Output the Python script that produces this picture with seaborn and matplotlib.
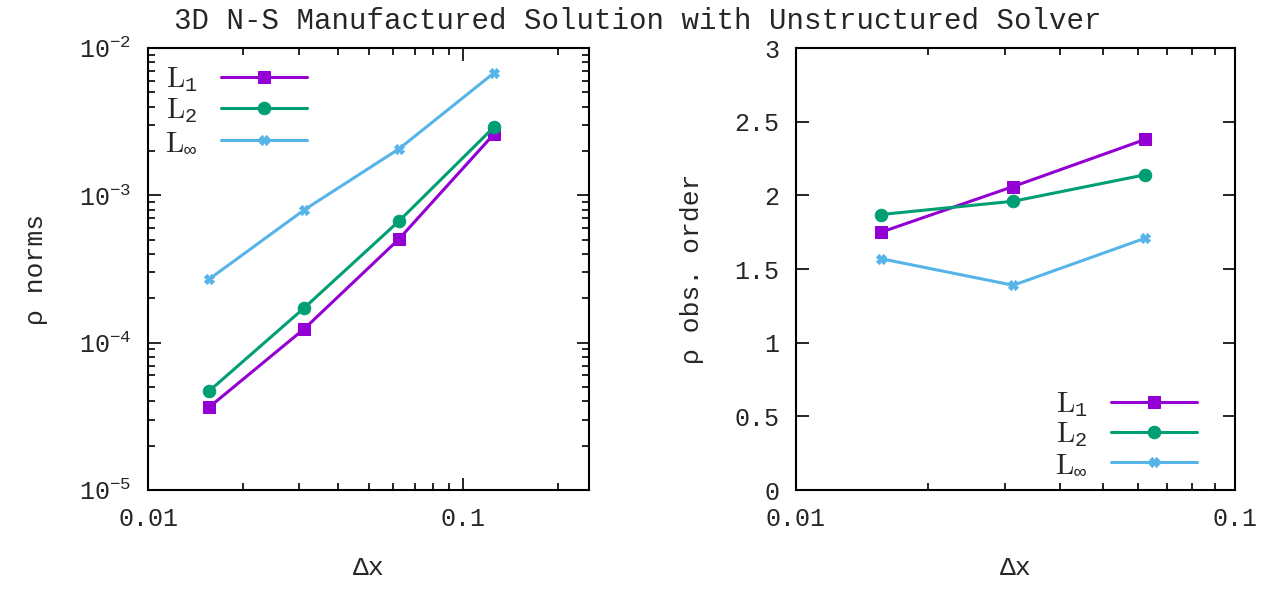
import numpy as np
import pandas as pd
import matplotlib
matplotlib.use('Agg')
import matplotlib.pyplot as plt
import seaborn as sns
from matplotlib.ticker import LogLocator, FixedLocator, NullFormatter, FuncFormatter
from matplotlib.font_manager import FontProperties

sns.set_theme(style='white')
plt.rcParams['font.family'] = ['Liberation Mono', 'DejaVu Sans']
plt.rcParams['mathtext.fontset'] = 'custom'
plt.rcParams['mathtext.rm'] = 'Liberation Mono'
plt.rcParams['mathtext.it'] = 'Liberation Mono'
plt.rcParams['mathtext.default'] = 'regular'

# 데이터
dx = [0.015625, 0.03125, 0.0625, 0.125]
l1_norm = [3.65e-5, 1.24e-4, 5.06e-4, 2.61e-3]
l2_norm = [4.70e-5, 1.72e-4, 6.70e-4, 2.91e-3]
linf_norm = [2.70e-4, 7.96e-4, 2.07e-3, 6.78e-3]

dx_order = [0.015625, 0.03125, 0.0625]
l1_order = [1.75, 2.06, 2.38]
l2_order = [1.87, 1.96, 2.14]
linf_order = [1.57, 1.39, 1.71]

labels = ['$\\mathrm{L}_1$', '$\\mathrm{L}_2$', '$\\mathrm{L}_\\infty$']
colors = ['#9400D3', '#009E73', '#56B4E9']
markers = ['s', 'o', 'X']
msizes = [9, 9, 7]

fig = plt.figure(figsize=(12.76, 5.89), dpi=100)
ax1 = fig.add_axes([0.116, 0.168, 0.3456, 0.7505])
ax2 = fig.add_axes([0.6238, 0.168, 0.3441, 0.7505])

for vals, lab, c, m, ms in zip([l1_norm, l2_norm, linf_norm], labels, colors, markers, msizes):
    sns.lineplot(x=dx, y=vals, ax=ax1, color=c, marker=m, markersize=ms,
                 markeredgecolor=c, linewidth=2.2, label=lab)
for vals, lab, c, m, ms in zip([l1_order, l2_order, linf_order], labels, colors, markers, msizes):
    sns.lineplot(x=dx_order, y=vals, ax=ax2, color=c, marker=m, markersize=ms,
                 markeredgecolor=c, linewidth=2.2, label=lab)

# 왼쪽 축
ax1.set_xscale('log')
ax1.set_yscale('log')
ax1.set_xlim(0.01, 0.25)
ax1.set_ylim(1e-5, 1e-2)
ax1.xaxis.set_major_locator(FixedLocator([0.01, 0.1]))
ax1.xaxis.set_major_formatter(FuncFormatter(lambda v, p: '%g' % v))
ax1.xaxis.set_minor_locator(LogLocator(base=10, subs=np.arange(2, 10)))
ax1.xaxis.set_minor_formatter(NullFormatter())
ax1.yaxis.set_major_locator(LogLocator(base=10, numticks=10))
ax1.yaxis.set_minor_locator(LogLocator(base=10, subs=np.arange(2, 10), numticks=20))
ax1.yaxis.set_minor_formatter(NullFormatter())
ax1.set_ylabel('ρ norms', fontsize=19, labelpad=22)
ax1.set_xlabel('Δx', fontsize=19, labelpad=18)

# 오른쪽 축
ax2.set_xscale('log')
ax2.set_xlim(0.01, 0.1)
ax2.set_ylim(0, 3)
ax2.xaxis.set_major_locator(FixedLocator([0.01, 0.1]))
ax2.xaxis.set_major_formatter(FuncFormatter(lambda v, p: '%g' % v))
ax2.xaxis.set_minor_locator(LogLocator(base=10, subs=np.arange(2, 10)))
ax2.xaxis.set_minor_formatter(NullFormatter())
ax2.set_yticks([0, 0.5, 1, 1.5, 2, 2.5, 3])
ax2.yaxis.set_major_formatter(FuncFormatter(lambda v, p: '%g' % v))
ax2.set_ylabel('ρ obs. order', fontsize=19, labelpad=22)
ax2.set_xlabel('Δx', fontsize=19, labelpad=18)

for ax in (ax1, ax2):
    ax.tick_params(which='both', direction='in', top=True, right=True,
                   bottom=True, left=True, labelsize=18, color='black', pad=12)
    ax.tick_params(which='major', length=9, width=1.2)
    ax.tick_params(which='minor', length=5, width=1.2)
    for s in ax.spines.values():
        s.set_color('black')
        s.set_linewidth(1.5)
    ax.grid(False)

leg_font = FontProperties(size=21, math_fontfamily='cm')
ax1.legend(loc='upper left', bbox_to_anchor=(0.012, 0.988), frameon=False,
           markerfirst=False, prop=leg_font, handlelength=2.95, labelspacing=0.1,
           borderaxespad=0.0, handletextpad=0.8)
ax2.legend(loc='lower right', bbox_to_anchor=(0.94, 0.0), frameon=False,
           markerfirst=False, prop=leg_font, handlelength=2.95, labelspacing=0.05,
           borderaxespad=0.0, handletextpad=0.8)

fig.suptitle('3D N-S Manufactured Solution with Unstructured Solver',
             fontsize=21, y=0.988)

fig.savefig('out.png', dpi=100)
